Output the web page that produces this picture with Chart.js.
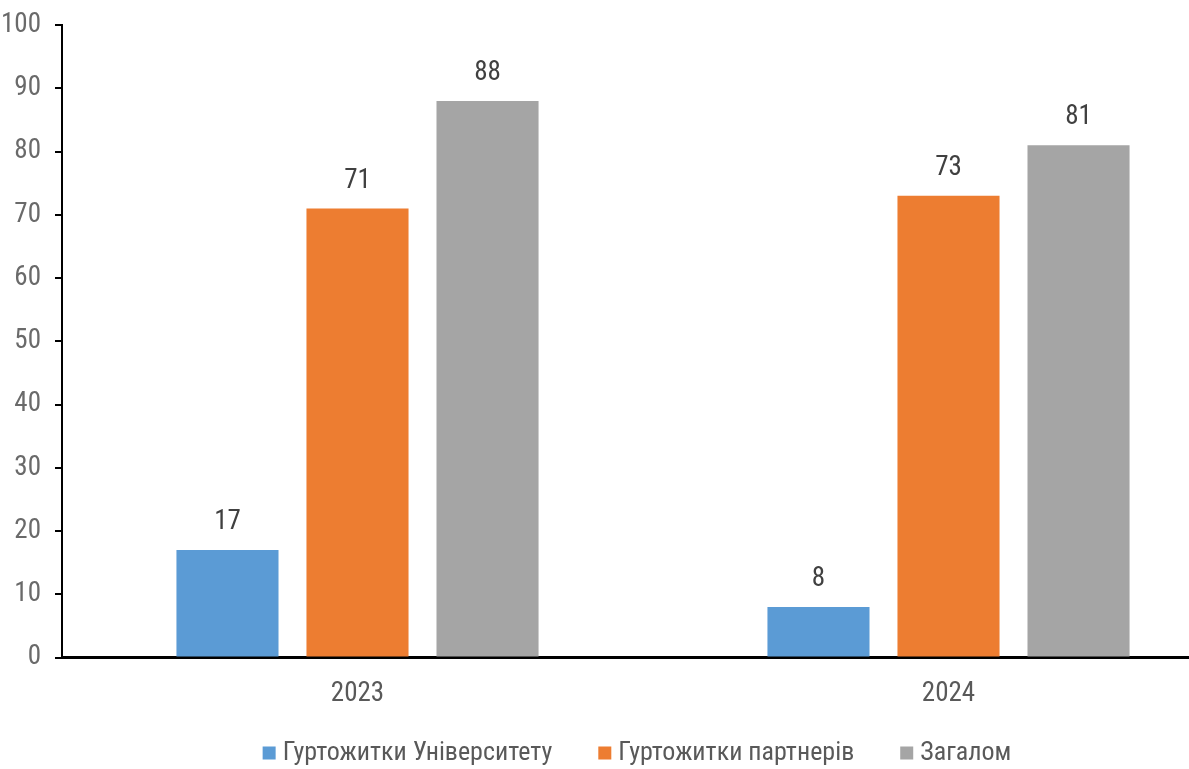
<!DOCTYPE html>
<html lang="uk">
<head>
<meta charset="utf-8">
<title>Гуртожитки</title>
<script src="https://cdn.jsdelivr.net/npm/chart.js@4.4.1/dist/chart.umd.min.js"></script>
<style>
  html, body { margin: 0; padding: 0; background: #fff; overflow: hidden; }
  #wrap { width: 1260px; height: 769px; }
</style>
</head>
<body>
<div id="wrap"><canvas id="chart"></canvas></div>
<script>
const years = ["2023", "2024"];
const universityDorms = [17, 8];
const partnerDorms = [71, 73];
const totalDorms = [88, 81];
const yTicks = [0, 10, 20, 30, 40, 50, 60, 70, 80, 90, 100];

const fontFamily = '"Liberation Sans Narrow", "Arial Narrow", "Roboto Condensed", "Liberation Sans", sans-serif';

// підписи значень над стовпчиками
const valueLabels = {
  id: "valueLabels",
  afterDatasetsDraw(chart) {
    const ctx = chart.ctx;
    ctx.save();
    ctx.font = "27px " + fontFamily;
    ctx.fillStyle = "#404040";
    ctx.textAlign = "center";
    ctx.textBaseline = "bottom";
    chart.data.datasets.forEach((ds, i) => {
      const meta = chart.getDatasetMeta(i);
      meta.data.forEach((bar, j) => {
        ctx.fillText(ds.data[j], bar.x, bar.y - 14);
      });
    });
    ctx.restore();
  },
};

// легенда внизу: квадратик + назва ряду
const bottomLegend = {
  id: "bottomLegend",
  afterDraw(chart, args, opts) {
    const ctx = chart.ctx;
    ctx.save();
    ctx.font = opts.size + "px " + fontFamily;
    ctx.textBaseline = "middle";
    const items = chart.data.datasets.map((ds) => ({
      text: ds.label,
      color: ds.backgroundColor,
      w: ctx.measureText(ds.label).width,
    }));
    const total = items.reduce((s, it) => s + opts.box + opts.boxGap + it.w, 0) + opts.gap * (items.length - 1);
    let x = opts.centerX - total / 2;
    items.forEach((it) => {
      ctx.fillStyle = it.color;
      ctx.fillRect(x, opts.y - opts.box / 2, opts.box, opts.box);
      x += opts.box + opts.boxGap;
      ctx.fillStyle = "#595959";
      ctx.fillText(it.text, x, opts.y);
      x += it.w + opts.gap;
    });
    ctx.restore();
  },
};

new Chart(document.getElementById("chart"), {
  type: "bar",
  data: {
    labels: years,
    datasets: [
      { label: "Гуртожитки Університету", data: universityDorms, backgroundColor: "#5B9BD5" },
      { label: "Гуртожитки партнерів", data: partnerDorms, backgroundColor: "#ED7D31" },
      { label: "Загалом", data: totalDorms, backgroundColor: "#A5A5A5" },
    ],
  },
  options: {
    responsive: true,
    maintainAspectRatio: false,
    animation: false,
    categoryPercentage: 0.66,
    barPercentage: 0.785,
    layout: { padding: { left: 0, right: 16, top: 0, bottom: 39 } },
    scales: {
      x: {
        grid: { display: false, drawTicks: false },
        border: { color: "#000", width: 3 },
        ticks: { color: "#595959", font: { family: fontFamily, size: 27 }, padding: 20 },
      },
      y: {
        min: 0,
        max: 100,
        afterBuildTicks: (scale) => {
          scale.ticks = yTicks.map((v) => ({ value: v }));
        },
        afterFit: (scale) => {
          scale.width = 62;
          scale.paddingTop = 25;
        },
        grid: { drawOnChartArea: false, color: "#000", lineWidth: 2, tickLength: 7 },
        border: { color: "#000", width: 2 },
        ticks: { color: "#6a6a6a", font: { family: fontFamily, size: 27 }, padding: 14 },
      },
    },
    plugins: {
      legend: { display: false },
      tooltip: { enabled: false },
      bottomLegend: { centerX: 637, y: 753, size: 26, box: 13, boxGap: 7, gap: 46 },
    },
  },
  plugins: [valueLabels, bottomLegend],
});
</script>
</body>
</html>
